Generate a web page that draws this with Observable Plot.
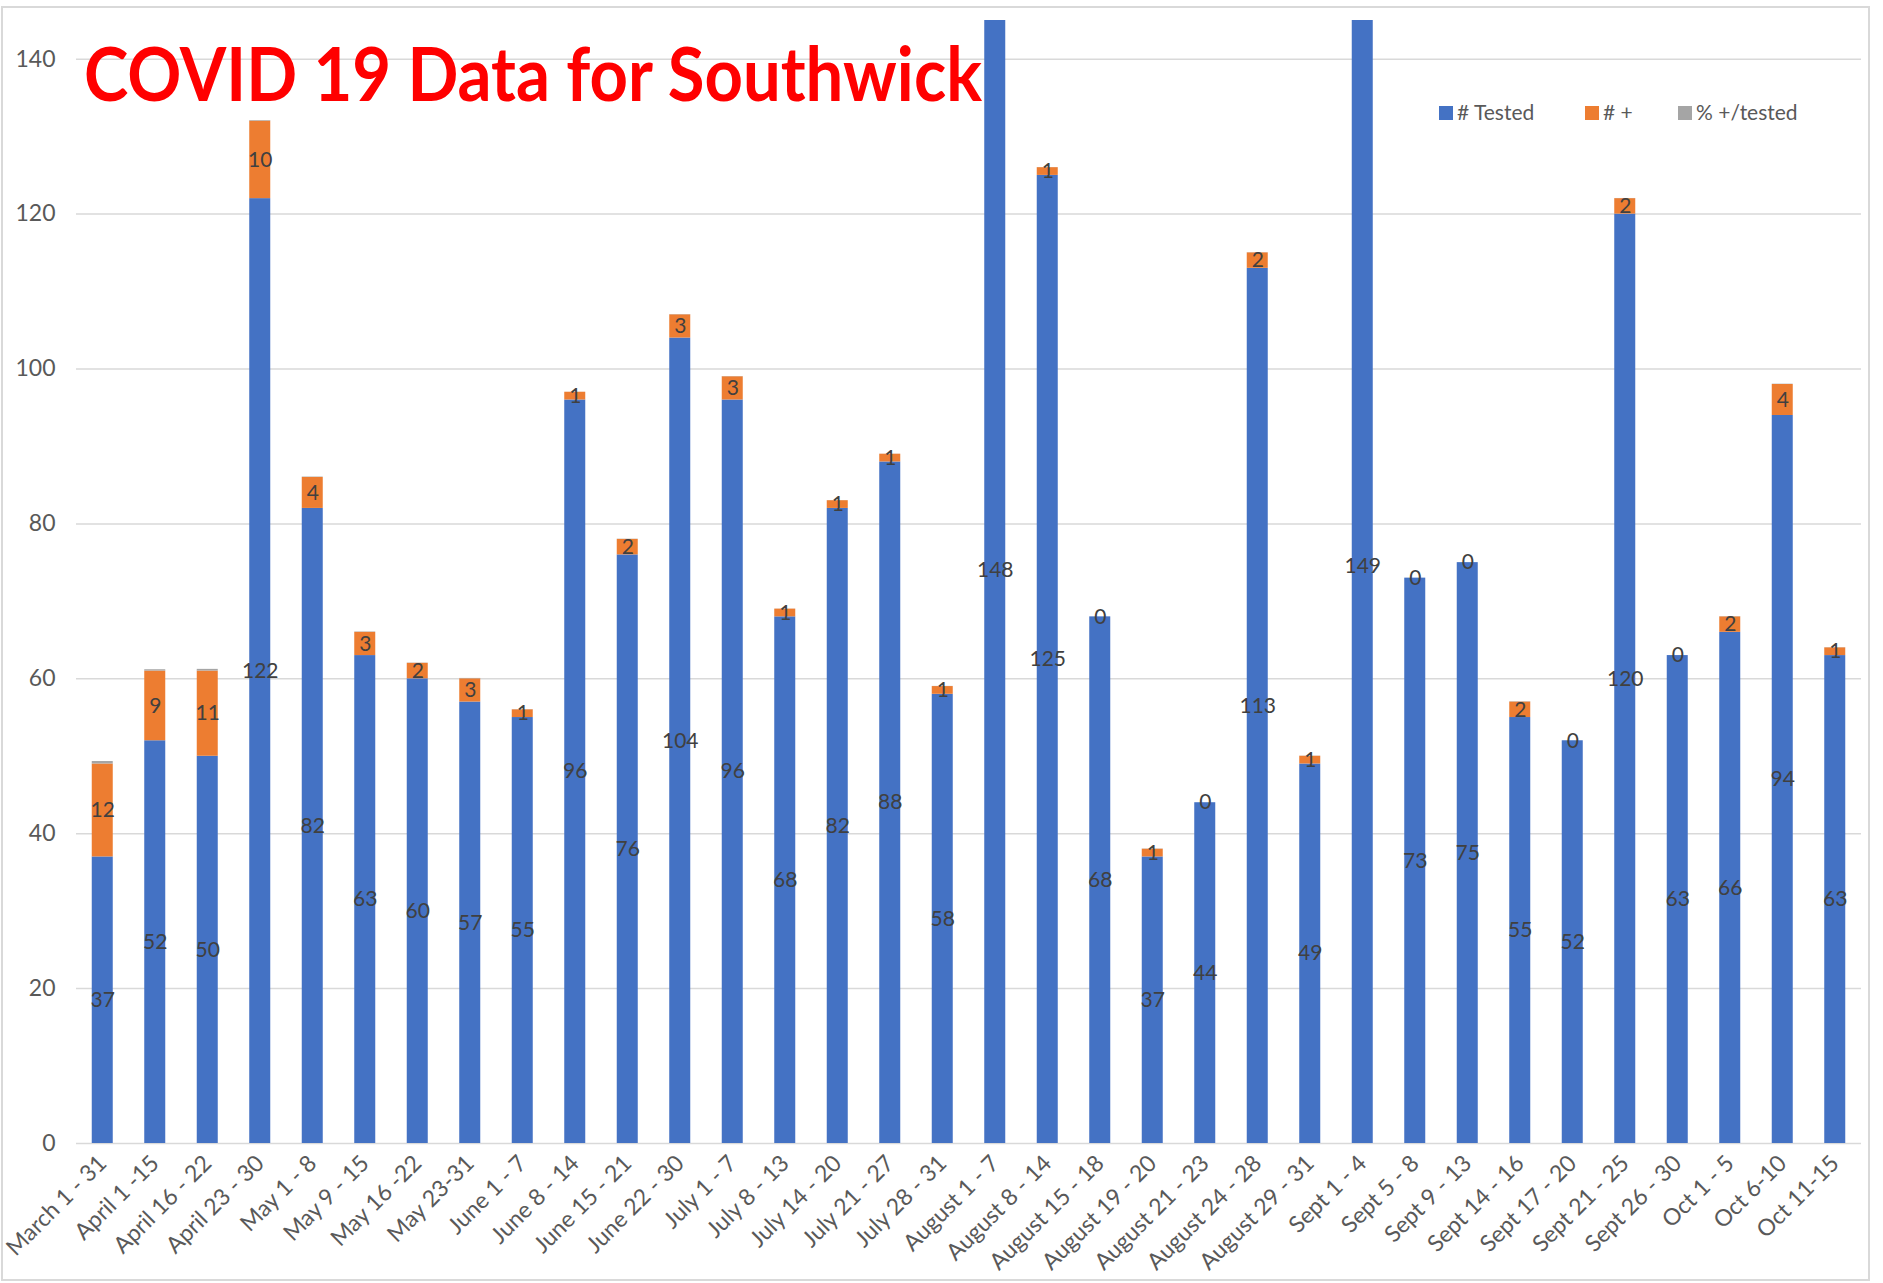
<!DOCTYPE html>
<html>
<head>
<meta charset="utf-8">
<script src="https://cdn.jsdelivr.net/npm/d3@7"></script>
<script src="https://cdn.jsdelivr.net/npm/@observablehq/plot@0.6"></script>
<style>
  html, body { margin: 0; padding: 0; background: #fff; }
  #wrap { position: relative; width: 1883px; height: 1283px; }
  #frame { position: absolute; left: 1px; top: 6px; width: 1869px; height: 1275px; border: 2px solid #d9d9d9; box-sizing: border-box; pointer-events: none; }
</style>
</head>
<body>
<div id="wrap"><div id="frame"></div></div>
<script>
const categories = ["March 1 - 31","April 1 -15","April 16 - 22","April 23 - 30","May 1 - 8","May 9 - 15","May 16 -22","May 23-31","June 1 - 7","June 8 - 14","June 15 - 21","June 22 - 30","July 1 - 7","July 8 - 13","July 14 - 20","July 21 - 27","July 28 - 31","August 1 - 7","August 8 - 14","August 15 - 18","August 19 - 20","August 21 - 23","August 24 - 28","August 29 - 31","Sept 1 - 4","Sept 5 - 8","Sept 9 - 13","Sept 14 - 16","Sept 17 - 20","Sept 21 - 25","Sept 26 - 30","Oct 1 - 5","Oct 6-10","Oct 11-15"];
const tested = [37,52,50,122,82,63,60,57,55,96,76,104,96,68,82,88,58,148,125,68,37,44,113,49,149,73,75,55,52,120,63,66,94,63];
const positive = [12,9,11,10,4,3,2,3,1,1,2,3,3,1,1,1,1,1,1,0,1,0,2,1,1,0,0,2,0,2,0,2,4,1];
const pctPositive = [0.32,0.17,0.22,0.08,0.05,0.05,0.03,0.05,0.02,0.01,0.03,0.03,0.03,0.01,0.01,0.01,0.02,0.01,0.01,0,0.03,0,0.02,0.02,0.01,0,0,0.04,0,0.02,0,0.03,0.04,0.02];
const seriesNames = ["# Tested", "# +", "% +/tested"];
const seriesColors = ["#4472C4", "#ED7D31", "#A5A5A5"];
const yTicks = [0,20,40,60,80,100,120,140];
const yMax = 145;
const titleText = "COVID 19 Data for Southwick";

const rows = [];
categories.forEach((c, i) => {
  // labels of segments that lie beyond the visible axis range are hidden, as in the original chart
  const hidePos = tested[i] + positive[i] / 2 > yMax;
  rows.push({cat: c, series: seriesNames[0], value: tested[i], label: String(tested[i])});
  rows.push({cat: c, series: seriesNames[1], value: positive[i], label: hidePos ? "" : String(positive[i])});
  rows.push({cat: c, series: seriesNames[2], value: pctPositive[i], label: ""});
});

const font = "Lato, 'Open Sans', sans-serif";

const chart = Plot.plot({
  width: 1883,
  height: 1283,
  marginLeft: 76,
  marginRight: 22,
  marginTop: 20,
  marginBottom: 140,
  style: {fontFamily: font, fontSize: "23px", color: "#595959", background: "transparent"},
  x: {domain: categories, paddingInner: 0.6, paddingOuter: 0.3, round: false, label: null, tickSize: 0, tickPadding: 16, tickRotate: -45},
  y: {domain: [0, yMax], ticks: yTicks, label: null, tickSize: 0, tickPadding: 21},
  color: {domain: seriesNames, range: seriesColors},
  marks: [
    Plot.ruleY(yTicks, {stroke: "#d9d9d9", strokeWidth: 1.5}),
    Plot.barY(rows, {x: "cat", y: "value", fill: "series", clip: true}),
    Plot.text(rows.filter(d => d.series !== seriesNames[2]), Plot.stackY({
      x: "cat", y: "value", z: "series", text: "label",
      fill: "#404040", fontSize: 21, clip: true
    })),
  ]
});

document.getElementById("wrap").appendChild(chart);

const svg = d3.select(chart);
// Title
svg.append("text")
  .attr("x", 84).attr("y", 101)
  .attr("text-anchor", "start")
  .attr("fill", "#ff0000")
  .attr("font-family", font)
  .attr("font-weight", "bold")
  .attr("font-size", 74)
  .attr("textLength", 898)
  .attr("lengthAdjust", "spacingAndGlyphs")
  .text(titleText);

// Legend
const legendX = [1439, 1585, 1678];
seriesNames.forEach((s, i) => {
  const g = svg.append("g");
  g.append("rect").attr("x", legendX[i]).attr("y", 106).attr("width", 14).attr("height", 14).attr("fill", seriesColors[i]);
  g.append("text").attr("x", legendX[i] + 18).attr("y", 120)
    .attr("text-anchor", "start")
    .attr("fill", "#595959").attr("font-size", 21)
    .attr("font-family", font)
    .text(s);
});
</script>
</body>
</html>
